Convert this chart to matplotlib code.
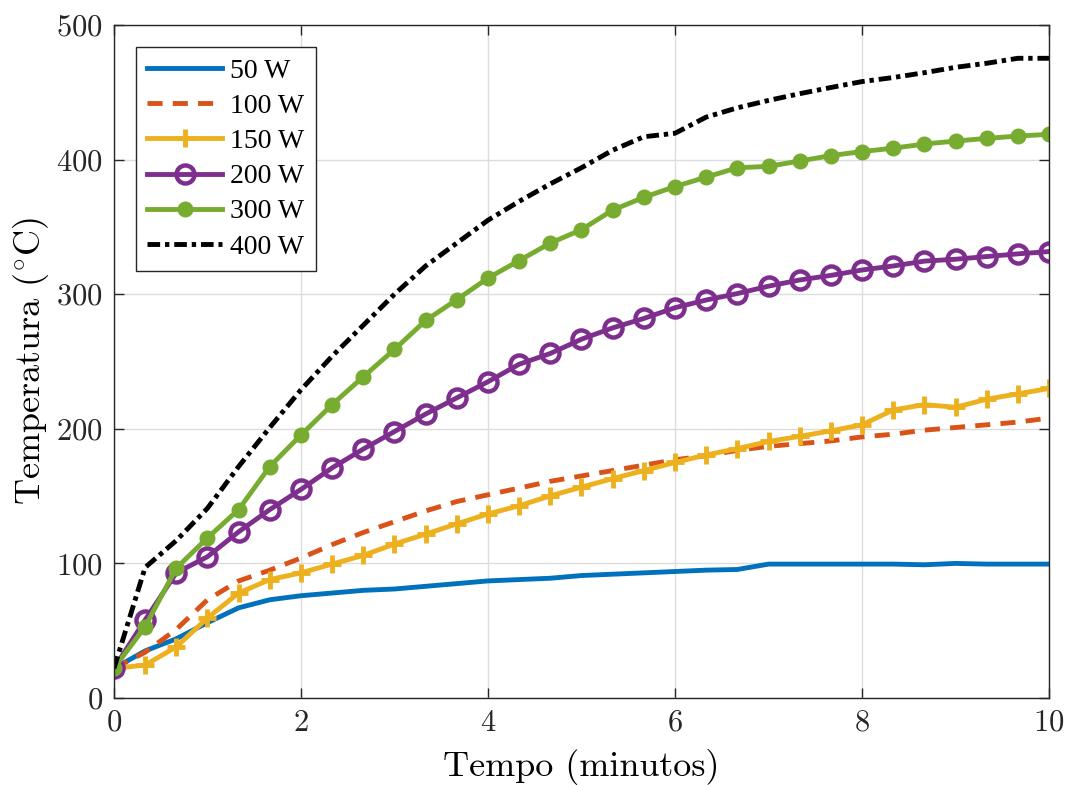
import numpy as np
import matplotlib
matplotlib.use("Agg")
import matplotlib.pyplot as plt

# time axis (minutes), one sample every 20 s
tempo = np.linspace(0, 10, 31)

p50 = [22, 35, 44, 56, 67, 73, 76, 78, 80, 81, 83, 85, 87, 88, 89, 91,
       92, 93, 94, 95, 95.5, 99.5, 99.5, 99.5, 99.5, 99.5, 99, 100, 99.5, 99.5, 99.5]
p100 = [22, 34, 51, 73, 87, 95, 104, 114, 123, 131, 139, 146, 151, 156, 161, 165,
        169, 173, 177, 180, 184, 187, 189, 191, 194, 196, 199, 201, 203, 205, 208]
p150 = [22, 24.5, 38, 59.5, 78, 88, 93, 99.5, 106, 114.4, 121.8, 129.4, 136.8, 142.8,
        150.2, 156.7, 163, 169, 175, 180.6, 185.3, 190.6, 194.4, 198.5, 203, 214, 218,
        216, 222, 226, 230]
p200 = [22, 58, 93, 105, 123.5, 140, 155, 171, 185, 198, 211, 223, 235, 248, 256,
        266.6, 275, 282, 290, 295.7, 300.5, 306, 310.6, 314, 318, 321, 324.6, 326,
        328, 330, 331.7]
p300 = [22, 53, 96.5, 119, 140, 172, 195.4, 218, 238.7, 259, 280.5, 296, 312, 325,
        338, 348, 362.5, 372, 380, 387, 394, 395, 399, 403, 406, 408.5, 411.6, 413.8,
        415.8, 417.5, 418.8]
p400 = [22, 97, 117, 141, 172, 201, 229, 254, 277, 300, 321, 338, 355, 369, 382,
        394, 407, 417, 419.6, 431.6, 438.5, 444, 449, 453.6, 458, 461, 464.6, 468.6,
        471.6, 475.3, 475.3]

labels = ['50 W', '100 W', '150 W', '200 W', '300 W', '400 W']

plt.rcParams['font.family'] = 'cmr10'
plt.rcParams['mathtext.fontset'] = 'cm'
plt.rcParams['axes.formatter.use_mathtext'] = True


def main():
    fig = plt.figure(figsize=(10.71, 7.85), dpi=100)
    ax = fig.add_axes([0.1064, 0.1108, 0.8731, 0.8573])

    lw = 3.5
    ax.plot(tempo, p50, color='#0072BD', lw=lw, label=labels[0])
    ax.plot(tempo, p100, color='#D95319', lw=lw, dashes=(3.1, 2.1), label=labels[1])
    ax.plot(tempo, p150, color='#EDB120', lw=lw, marker='+', ms=13, mew=3.5,
            label=labels[2])
    ax.plot(tempo, p200, color='#7E2F8E', lw=lw, marker='o', ms=13, mew=3.2,
            mfc='none', label=labels[3])
    ax.plot(tempo, p300, color='#77AC30', lw=lw, marker='o', ms=10.5, mew=1,
            label=labels[4])
    ax.plot(tempo, p400, color='black', lw=lw, dashes=(2.6, 1.0, 0.9, 1.0),
            label=labels[5])

    ax.set_xlim(0, 10)
    ax.set_ylim(0, 500)
    ax.set_xticks(np.arange(0, 11, 2))
    ax.set_yticks(np.arange(0, 501, 100))
    ax.grid(True, color='#dcdcdc', lw=1)
    ax.set_axisbelow(True)
    ax.tick_params(direction='in', length=7, width=1, top=True, right=True,
                   labelsize=22, colors='#262626', pad=8)
    for s in ax.spines.values():
        s.set_color('#262626')
        s.set_linewidth(1)

    ax.set_xlabel('Tempo (minutos)', fontsize=26, labelpad=9)
    ax.set_ylabel(r'Temperatura ($^{\circ}$C)', fontsize=26, labelpad=4)

    leg = ax.legend(loc='upper left', bbox_to_anchor=(0.0235, 0.967),
                    prop={'family': 'Liberation Serif', 'size': 20},
                    fancybox=False, framealpha=1, edgecolor='#262626',
                    handlelength=2.7, labelspacing=0.35, borderpad=0.4,
                    handletextpad=0.3, borderaxespad=0)
    leg.get_frame().set_linewidth(1)

    fig.savefig('out.png', dpi=100)


if __name__ == "__main__":
    main()
